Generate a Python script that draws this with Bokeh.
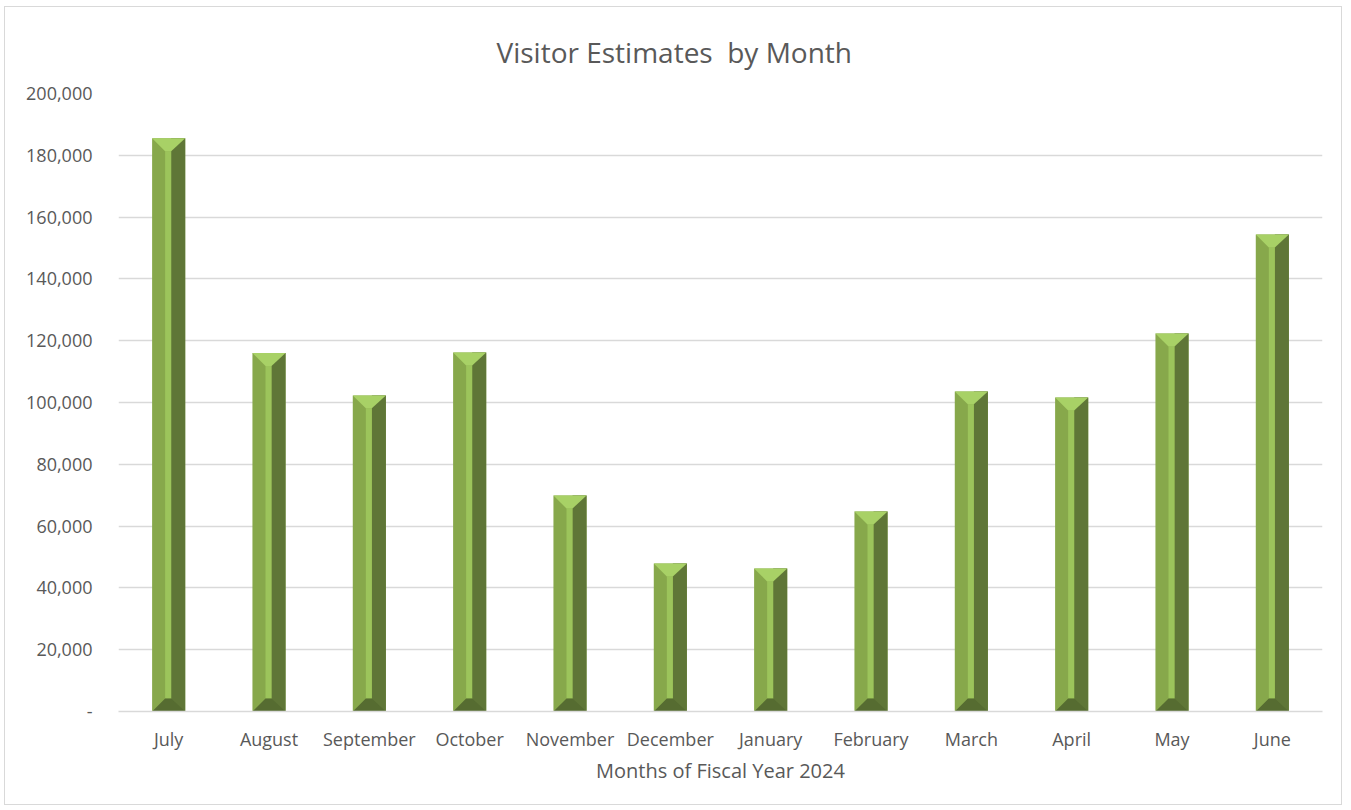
from bokeh.plotting import figure
from bokeh.models import FixedTicker, NumeralTickFormatter, ColumnDataSource
from bokeh.embed import file_html
from bokeh.resources import INLINE

months = ["July", "August", "September", "October", "November", "December",
          "January", "February", "March", "April", "May", "June"]
visitors = [185500, 116000, 102300, 116200, 69900, 47900,
            46300, 64700, 103600, 101600, 122300, 154400]
y_ticks = [0, 20000, 40000, 60000, 80000, 100000, 120000, 140000, 160000, 180000, 200000]

FONT = "Open Sans"
TXT = "#595959"
GRID = "#d9d9d9"

p = figure(width=1338, height=799, output_backend="svg", toolbar_location=None,
           x_range=(-0.5, 11.5), y_range=(0, 200000),
           min_border_left=113, min_border_right=21, min_border_top=86, min_border_bottom=95)
p.styles = {"border": "1.5px solid #d9d9d9", "margin": "6px 0 0 4px"}
p.outline_line_color = None

p.title.text = "Visitor Estimates\u00a0 by Month"
p.title.align = "left"
p.title.offset = 378
p.title.standoff = 46
p.title.text_font = FONT
p.title.text_font_size = "28px"
p.title.text_font_style = "normal"
p.title.text_color = TXT

# bevelled bar geometry (in data units)
w = 0.33
lf, sw = 0.13, 0.06
cap = 4200

xs = list(range(len(months)))
left_faces = ColumnDataSource(dict(x=xs, top=visitors))
p.vbar(x="x", width=w, top="top", bottom=0, source=left_faces,
       fill_color="#87a84b", line_color=None)

rq = dict(left=[i - w / 2 + lf + sw for i in xs], right=[i + w / 2 for i in xs],
          top=visitors, bottom=[0] * len(xs))
p.quad(source=ColumnDataSource(rq), left="left", right="right", top="top", bottom="bottom",
       fill_color="#5f7637", line_color=None)

sq = dict(left=[i - w / 2 + lf for i in xs], right=[i - w / 2 + lf + sw for i in xs],
          top=[v - cap for v in visitors], bottom=[cap] * len(xs))
p.quad(source=ColumnDataSource(sq), left="left", right="right", top="top", bottom="bottom",
       fill_color="#9cc45b", line_color=None)

cap_x, cap_y, bot_x, bot_y = [], [], [], []
for i, v in zip(xs, visitors):
    xl, xr = i - w / 2, i + w / 2
    s0, s1 = xl + lf, xl + lf + sw
    cap_x.append([xl, xr, s1, s0])
    cap_y.append([v, v, v - cap, v - cap])
    bot_x.append([xl, s0, s1, xr])
    bot_y.append([0, cap, cap, 0])
p.patches(cap_x, cap_y, fill_color="#a8d166", line_color=None)
p.patches(bot_x, bot_y, fill_color="#566c31", line_color=None)

# axes
p.xaxis.ticker = FixedTicker(ticks=xs)
p.xaxis.major_label_overrides = {i: m for i, m in enumerate(months)}
p.xaxis.major_tick_line_color = None
p.xaxis.minor_tick_line_color = None
p.xaxis.axis_line_color = GRID
p.xaxis.axis_line_width = 1.5
p.xaxis.major_label_standoff = 9
p.xaxis.major_label_text_font = FONT
p.xaxis.major_label_text_font_size = "18px"
p.xaxis.major_label_text_color = TXT
p.xaxis.axis_label = "Months of Fiscal Year 2024"
p.xaxis.axis_label_text_font = FONT
p.xaxis.axis_label_text_font_size = "20px"
p.xaxis.axis_label_text_font_style = "normal"
p.xaxis.axis_label_text_color = TXT
p.xaxis.axis_label_standoff = 3

p.yaxis.ticker = FixedTicker(ticks=y_ticks)
p.yaxis.formatter = NumeralTickFormatter(format="0,0")
p.yaxis.major_label_overrides = {0: "-"}
p.yaxis.major_tick_line_color = None
p.yaxis.minor_tick_line_color = None
p.yaxis.axis_line_color = None
p.yaxis.major_label_standoff = 20
p.yaxis.major_label_text_font = FONT
p.yaxis.major_label_text_font_size = "18px"
p.yaxis.major_label_text_color = TXT

p.xgrid.grid_line_color = None
p.ygrid.grid_line_color = GRID
p.ygrid.grid_line_width = 1.5

open("out.html", "w").write(file_html(p, INLINE))
